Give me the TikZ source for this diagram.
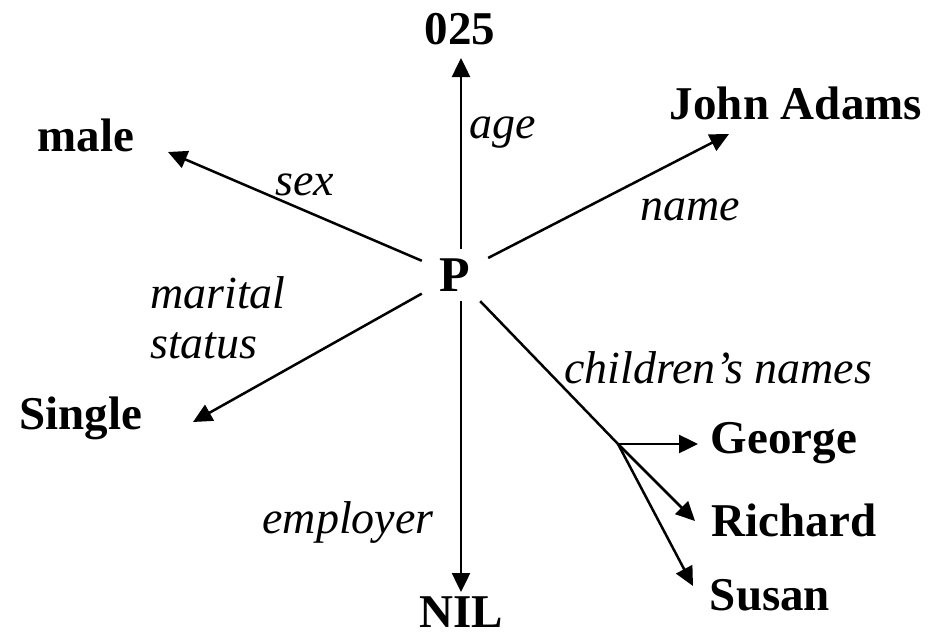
\documentclass[tikz,border=0pt]{standalone}
\usepackage{fontspec}
\setmainfont{Liberation Serif}
\usetikzlibrary{arrows.meta, positioning}

\begin{document}
\begin{tikzpicture}[x=1pt, y=-1pt]
    % Styles
    \tikzstyle{value} = [font=\fontsize{47}{50}\selectfont\bfseries, inner sep=0pt]
    \tikzstyle{big} = [font=\fontsize{50}{54}\selectfont\bfseries, inner sep=0pt]
    \tikzstyle{attr} = [font=\fontsize{46}{50}\selectfont\itshape, inner sep=0pt]
    \tikzstyle{arrow} = [line width=2.5pt, -{Triangle[length=19pt, width=18pt]}]
    \tikzstyle{link} = [line width=2.5pt]

    \useasboundingbox (0,0) rectangle (932,637);

    % Nodes
    \node [big, minimum width=66pt, minimum height=52pt] (P) at (455,275) {P};
    \node [value] (age) at (460,29) {025};
    \node [value] (male) at (86,135) {male};
    \node [value] (john) at (796,103) {John Adams};
    \node [value] (single) at (81,418) {Single};
    \node [value] (nil) at (461,612) {NIL};
    \node [value] (george) at (784,443) {George};
    \node [value] (richard) at (794,520) {Richard};
    \node [value] (susan) at (770,595) {Susan};

    % Labels
    \node [attr] (agelbl) at (503,133) {age};
    \node [attr] (sexlbl) at (305,185) {sex};
    \node [attr] (namelbl) at (690,210) {name};
    \node [attr, align=left, anchor=west] (maritallbl) at (150,318) {marital\\status};
    \node [attr] (childlbl) at (718,368) {children’s names};
    \node [attr] (emplbl) at (348,522) {employer};

    % Arrow tips
    \coordinate (tipage) at (461,58);
    \coordinate (tipmale) at (168,152);
    \coordinate (tipjohn) at (729,134);
    \coordinate (tipsingle) at (193,422);
    \coordinate (tipnil) at (461,592);
    \coordinate (fork) at (618,444);
    \coordinate (tipgeorge) at (698,444);
    \coordinate (tiprichard) at (695,521);
    \coordinate (tipsusan) at (693,586);

    % Arrows
    \draw [arrow] (tipage |- P.north) -- (tipage);
    \draw [arrow] (P) -- (tipmale);
    \draw [arrow] (P) -- (tipjohn);
    \draw [arrow] (P) -- (tipsingle);
    \draw [arrow] (tipnil |- P.south) -- (tipnil);
    \draw [link] (P) -- (fork);
    \draw [arrow] (fork) -- (tipgeorge);
    \draw [arrow] (fork) -- (tiprichard);
    \draw [arrow] (fork) -- (tipsusan);
\end{tikzpicture}
\end{document}
